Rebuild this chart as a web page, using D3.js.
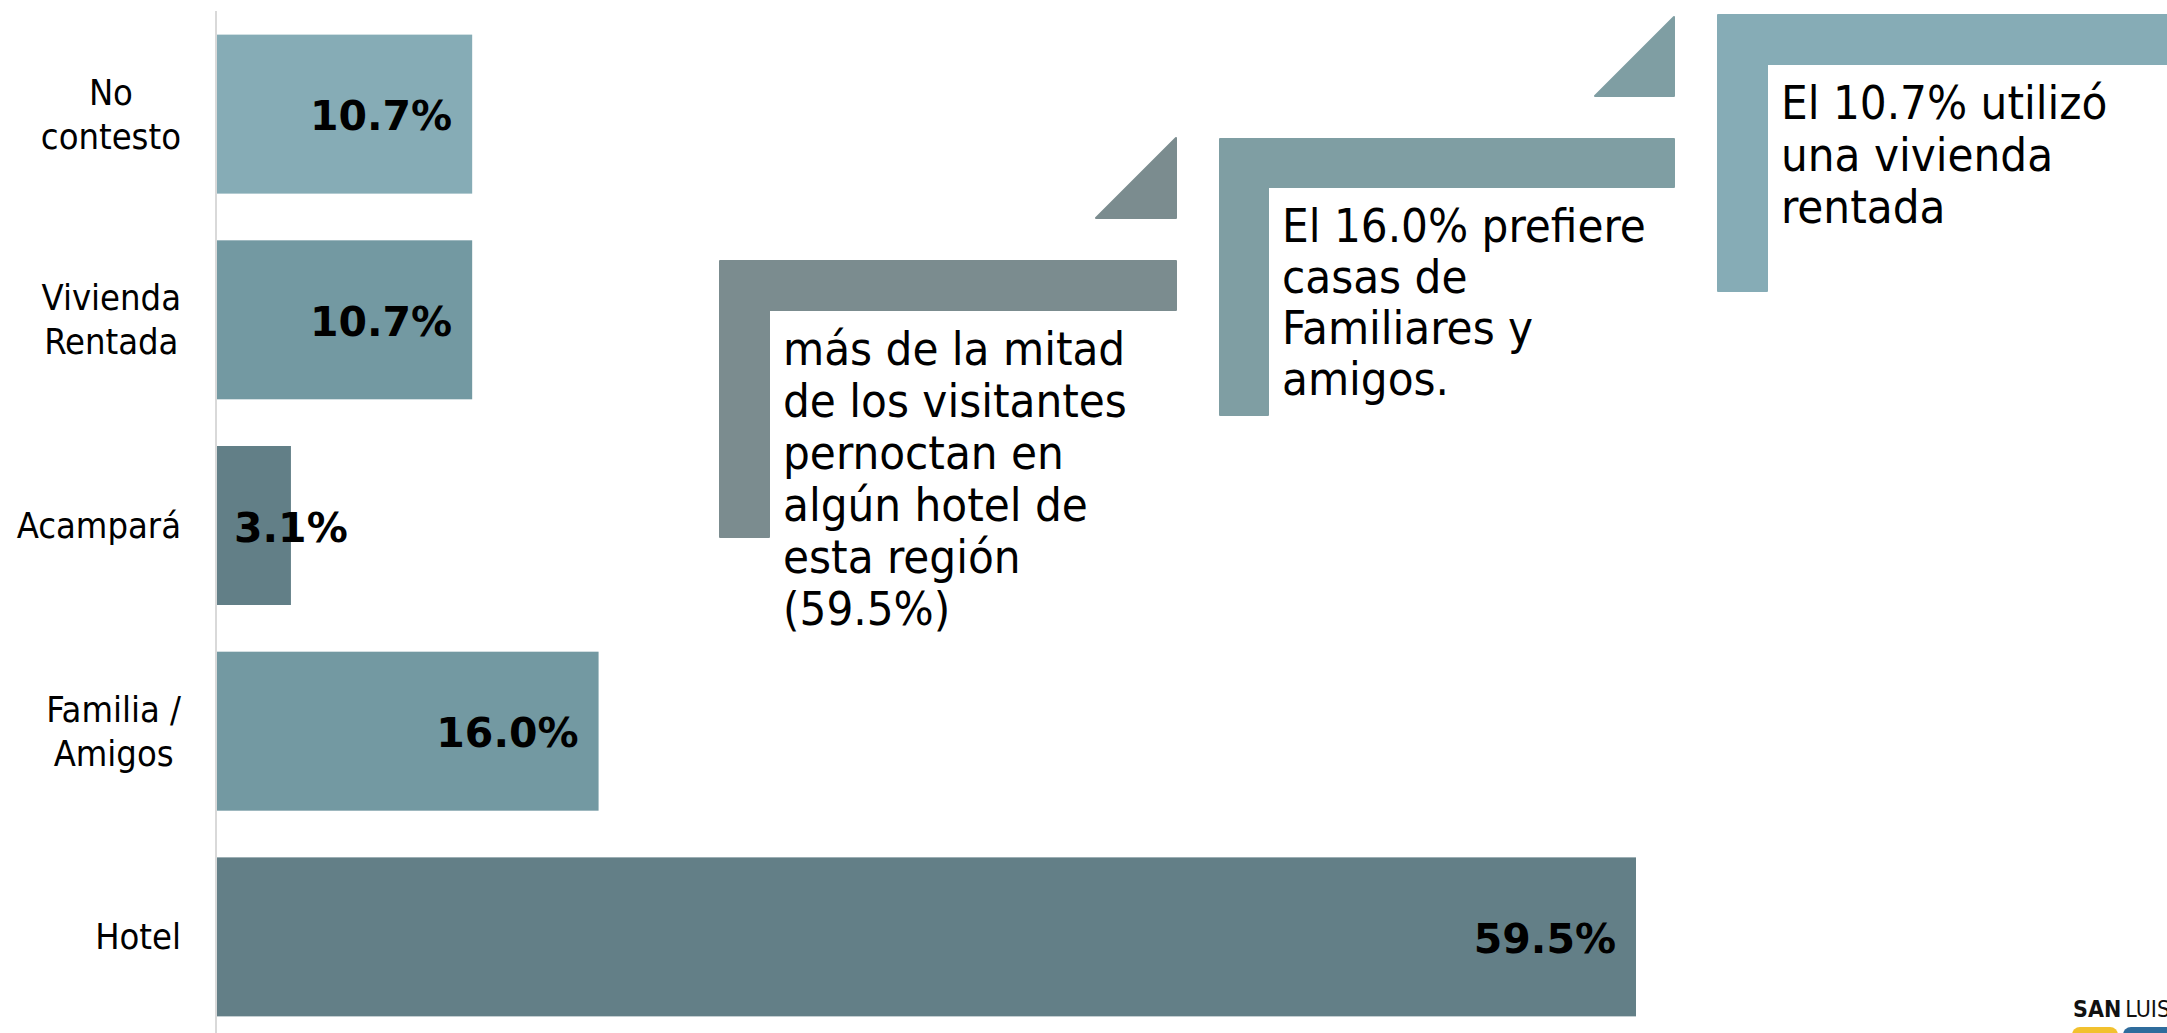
<!DOCTYPE html>
<html>
<head>
<meta charset="utf-8">
<script src="https://cdn.jsdelivr.net/npm/d3@7"></script>
<style>
  html, body { margin: 0; padding: 0; background: #fff; }
  svg { display: block; }
  .cat { font-family: 'DejaVu Sans Condensed', 'DejaVu Sans', sans-serif; font-stretch: condensed; font-size: 36px; fill: #000; }
  .val { font-family: 'DejaVu Sans', sans-serif; font-weight: bold; font-size: 41px; fill: #000; }
  .note { font-family: 'DejaVu Sans Condensed', 'DejaVu Sans', sans-serif; font-stretch: condensed; font-size: 47px; fill: #000; }
</style>
</head>
<body>
<svg id="chart" width="2167" height="1033"></svg>
<script>
// data
var categories = ['No contesto', 'Vivienda Rentada', 'Acampará', 'Familia / Amigos', 'Hotel']
var labelLines = [['No', 'contesto'], ['Vivienda', 'Rentada'], ['Acampará'], ['Familia /', 'Amigos'], ['Hotel']]
var values = [10.7, 10.7, 3.1, 16.0, 59.5]
var barColors = ['#86acb6', '#7399a2', '#627f87', '#7399a2', '#637f87']

var noteTexts = [
    ['más de la mitad', 'de los visitantes', 'pernoctan en', 'algún hotel de', 'esta región', '(59.5%)'],
    ['El 16.0% prefiere', 'casas de', 'Familiares y', 'amigos.'],
    ['El 10.7% utilizó', 'una vivienda', 'rentada']
]
var noteColors = ['#7b8c8f', '#7f9ea3', '#86acb6']

var svg = d3.select('#chart')
var width = +svg.attr('width')
var height = +svg.attr('height')
var margin = { left: 217, top: 12 }

var xscale = d3.scaleLinear()
    .domain([0, 59.5])
    .range([margin.left, 1636])

var yscale = d3.scaleBand()
    .domain(categories)
    .range([margin.top, 1039])
    .paddingInner(0.227)
    .paddingOuter(0.11)

// bars
svg.append('g').selectAll('rect')
    .data(categories)
    .enter()
    .append('rect')
    .attr('x', xscale(0))
    .attr('y', d => yscale(d))
    .attr('width', (d, i) => xscale(values[i]) - xscale(0))
    .attr('height', yscale.bandwidth())
    .attr('fill', (d, i) => barColors[i])

// axis line
svg.append('line')
    .attr('x1', xscale(0) - 1).attr('x2', xscale(0) - 1)
    .attr('y1', 11).attr('y2', height)
    .attr('stroke', '#d9d9d9')
    .attr('stroke-width', 2)

// category labels (centred lines, block right aligned)
var labelRight = 181
var lineH = 44
categories.forEach(function (c, i) {
    var g = svg.append('g')
    var lines = labelLines[i]
    var texts = lines.map(function (t, j) {
        return g.append('text')
            .attr('class', 'cat')
            .attr('dominant-baseline', 'central')
            .attr('text-anchor', 'middle')
            .attr('y', yscale(c) + yscale.bandwidth() / 2 + (j - (lines.length - 1) / 2) * lineH)
            .text(t)
    })
    var maxW = d3.max(texts, t => t.node().getComputedTextLength())
    texts.forEach(t => t.attr('x', labelRight - maxW / 2))
})

// value labels
categories.forEach(function (c, i) {
    var t = svg.append('text')
        .attr('class', 'val')
        .attr('text-anchor', 'end')
        .attr('dominant-baseline', 'central')
        .attr('y', yscale(c) + yscale.bandwidth() / 2 + 2)
        .text(values[i].toFixed(1) + '%')
    var w = t.node().getComputedTextLength()
    var x = Math.max(xscale(values[i]) - 20, xscale(0) + 17 + w)
    t.attr('x', x)
})

// callouts
var notes = [
    { x: 720, y: 261, w: 456, bar: 49, down: 276, tri: [[1176, 138], [1176, 218], [1096, 218]], lh: 52 },
    { x: 1220, y: 139, w: 454, bar: 48, down: 276, tri: [[1674, 17], [1674, 96], [1595, 96]], lh: 51 },
    { x: 1718, y: 15, w: 520, bar: 49, down: 276, tri: null, lh: 52 }
]
notes.forEach(function (n, i) {
    var g = svg.append('g')
    g.append('path')
        .attr('d', 'M' + n.x + ',' + n.y + 'h' + n.w + 'v' + n.bar + 'h' + (-(n.w - n.bar)) +
            'v' + (n.down - n.bar) + 'h' + (-n.bar) + 'Z')
        .attr('fill', noteColors[i])
        .attr('stroke', noteColors[i])
        .attr('stroke-width', 2)
        .attr('stroke-linejoin', 'round')
    if (n.tri) {
        g.append('path')
            .attr('d', 'M' + n.tri.join('L') + 'Z')
            .attr('fill', noteColors[i])
            .attr('stroke', noteColors[i])
            .attr('stroke-width', 2)
            .attr('stroke-linejoin', 'round')
    }
    noteTexts[i].forEach(function (t, j) {
        g.append('text')
            .attr('class', 'note')
            .attr('x', n.x + n.bar + 14)
            .attr('y', n.y + n.bar + 55 + j * n.lh)
            .text(t)
    })
})

// logo corner (cut by the right edge, as in the source)
var logo = svg.append('g')
var lt = logo.append('text')
    .attr('x', 2073).attr('y', 1017)
    .style('font-family', "'DejaVu Sans Condensed', 'DejaVu Sans', sans-serif")
    .style('font-stretch', 'condensed')
    .style('font-size', '23px')
    .attr('fill', '#111')
lt.append('tspan').attr('font-weight', 'bold').text('SAN')
lt.append('tspan').attr('dx', 4).text('LUIS')
logo.append('rect').attr('x', 2072).attr('y', 1027).attr('width', 46).attr('height', 20).attr('rx', 8).attr('fill', '#f2c12e')
logo.append('rect').attr('x', 2123).attr('y', 1027).attr('width', 60).attr('height', 20).attr('rx', 8).attr('fill', '#2f6c9c')
</script>
</body>
</html>
